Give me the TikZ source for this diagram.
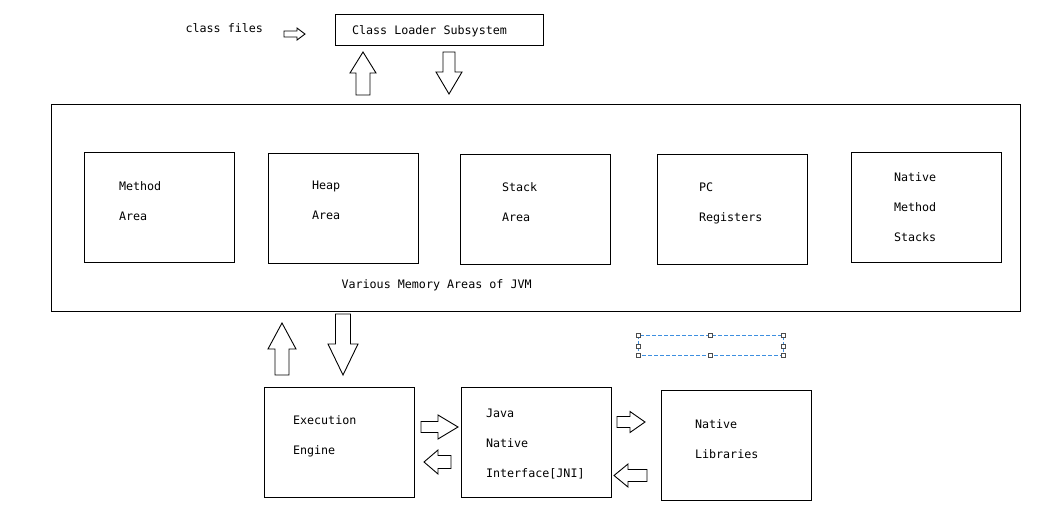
\documentclass[tikz,border=0pt]{standalone}
\usepackage{fontspec}
\setmonofont{DejaVu Sans Mono}
\usetikzlibrary{positioning}
\begin{document}
\begin{tikzpicture}[x=1pt,y=-1pt,line width=1pt,
	box/.style={draw,rectangle,inner sep=0pt,minimum width=150pt,minimum height=110pt},
	lbl/.style={inner sep=0pt,anchor=west,align=left,font={\fontsize{11.7}{30}\selectfont\ttfamily}},
	blockarrow/.style={draw,fill=white,line width=0.9pt,line join=miter},
	handle/.style={draw=black!70,fill=white,line width=0.8pt}]
	\useasboundingbox (0,0) rectangle (1053,512);
	\node[lbl] (files) at (185,28) {class files};
	\node[draw,rectangle,inner sep=0pt,minimum width=208pt,minimum height=31pt] (loader) at (439,30) {};
	\node[lbl,right=17pt of loader.west,yshift=-1.5pt] (loadertxt) {Class Loader Subsystem};
	\draw[blockarrow](305,34)--++(-8,-6)--++(0,3)--++(-13,0)--++(0,6)--++(13,0)--++(0,3)--cycle;
	\draw[blockarrow](363,52)--++(13,21)--++(-6,0)--++(0,22)--++(-14,0)--++(0,-22)--++(-6,0)--cycle;
	\draw[blockarrow](449,94)--++(-13,-22)--++(7,0)--++(0,-20)--++(12,0)--++(0,20)--++(7,0)--cycle;
	\node[draw,rectangle,inner sep=0pt,minimum width=969pt,minimum height=207pt] (memory) at (535.5,207.5) {};
	\node[box] (method) at (159,207) {};
	\node[box] (heap) at (343,208) {};
	\node[box] (stack) at (535,209) {};
	\node[box] (pc) at (732,209) {};
	\node[box] (nstack) at (926,207) {};
	\node[lbl,right=35pt of method.west,yshift=6pt] (methodtxt) {Method\\Area};
	\node[lbl,right=44pt of heap.west,yshift=7.5pt] (heaptxt) {Heap\\Area};
	\node[lbl,right=42pt of stack.west,yshift=6.5pt] (stacktxt) {Stack\\Area};
	\node[lbl,right=42pt of pc.west,yshift=5.5pt] (pctxt) {PC\\Registers};
	\node[lbl,right=43pt of nstack.west] (nstacktxt) {Native\\Method\\Stacks};
	\node[lbl] (memorytxt) at (341,285) {Various Memory Areas of JVM};
	\draw[blockarrow](282,323)--++(14,26)--++(-7,0)--++(0,26)--++(-14,0)--++(0,-26)--++(-7,0)--cycle;
	\draw[blockarrow](343,375)--++(-15,-31)--++(7.5,0)--++(0,-30)--++(15,0)--++(0,30)--++(7.5,0)--cycle;
	\node[box] (engine) at (339,442) {};
	\node[box] (jni) at (536,442) {};
	\node[box] (natlib) at (736,445) {};
	\node[lbl,right=29pt of engine.west,yshift=5.5pt] (enginetxt) {Execution\\Engine};
	\node[lbl,right=25pt of jni.west,yshift=-2pt] (jnitxt) {Java\\Native\\Interface[JNI]};
	\node[lbl,right=34pt of natlib.west,yshift=5.5pt] (natlibtxt) {Native\\Libraries};
	\draw[blockarrow](458,427)--++(-20,-12)--++(0,6.5)--++(-17,0)--++(0,11)--++(17,0)--++(0,6.5)--cycle;
	\draw[blockarrow](424,462)--++(14,-12)--++(0,5.5)--++(13,0)--++(0,13)--++(-13,0)--++(0,5.5)--cycle;
	\draw[blockarrow](645,422)--++(-15,-10.5)--++(0,5)--++(-13,0)--++(0,11)--++(13,0)--++(0,5)--cycle;
	\draw[blockarrow](614,475.5)--++(14,-11.5)--++(0,5.5)--++(19,0)--++(0,12)--++(-19,0)--++(0,5.5)--cycle;
	\draw[dash pattern=on 4pt off 2pt,color={rgb,255:red,61;green,143;blue,224},line width=0.8pt](638,335)rectangle(783,355);
	\foreach \x/\y in {638/335,710/335,783/335,638/346,783/346,638/355,710/355,783/355}
		{\draw[handle](\x-2,\y-2)rectangle++(4,4);}
\end{tikzpicture}
\end{document}
